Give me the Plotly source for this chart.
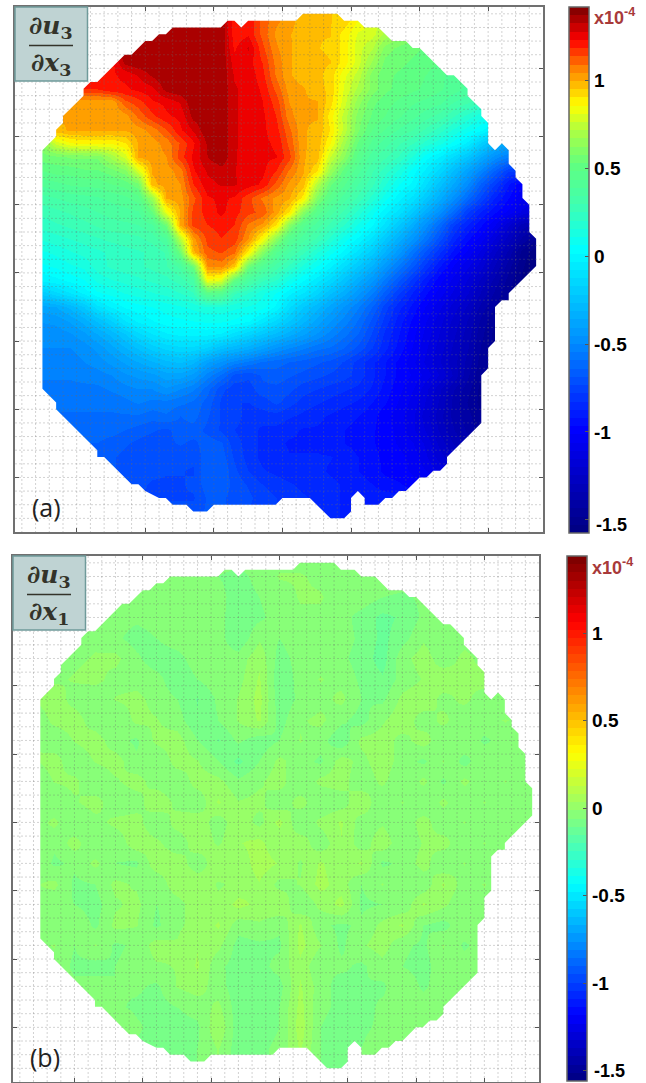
import plotly.graph_objects as go

W, H = 646, 1083

# ---- region outline in grid units (shared by both maps) ----
outline_u = [4,6,6,7,7,10,10,11,12,16,17,19,20,21,22,23,30,31,32,33,34,41,42,47,48,50,51,53,55,57,58,59,63,64,66,66,68,68,69,69,70,71,72,72,73,73,74,74,75,75,76,76,72,72,71,70,70,69,69,68,68,63,63,62,61,60,59,57,56,55,54,53,51,51,50,49,49,48,46,43,39,38,29,28,26,25,23,22,21,19,18,17,13,12,12,6,6,4,4]
outline_v = [21,19,18,17,16,13,12,11,11,7,7,5,5,4,4,3,3,2,2,3,2,2,1,1,2,2,3,3,5,5,6,6,10,10,12,13,15,16,17,20,21,20,21,23,24,25,26,28,29,33,34,38,42,43,43,44,49,50,53,54,61,66,67,68,68,69,69,71,71,72,72,73,73,72,71,72,74,75,75,72,72,73,73,74,74,73,73,72,72,71,70,70,66,66,65,59,58,56,21]

# ---- panel (a): values x100 on a 2-unit grid, (first column index, values) ----
a_first = [15,15,15,7,6,5,4,3,2,2,2,2,2,2,2,2,2,2,2,2,2,2,2,2,2,2,2,2,2,2,2,2,2,6,9,11,13]
a_rows = [
 [136,120,122,112,105,102,96,95,95,93,85,80,72,60],
 [136,120,122,112,103,100,96,95,95,88,80,78,70,64,60,55],
 [136,122,128,115,105,100,97,95,94,88,78,72,60,56,54,52],
 [120,134,136,136,136,136,136,136,136,125,125,118,107,100,97,96,95,88,78,66,56,54,52,50,48],
 [122,122,124,128,133,136,136,136,136,136,127,126,120,108,100,97,96,93,82,74,60,54,52,50,48,45,40],
 [118,118,122,122,124,126,134,136,136,136,136,128,126,122,112,102,100,96,94,80,70,60,54,51,49,47,44,41,37,35],
 [103,100,100,100,112,116,122,124,128,136,136,136,128,126,123,116,104,100,100,92,78,64,54,50,47,44,42,40,34,30,25],
 [100,100,100,100,100,102,110,117,122,124,134,136,136,128,126,124,118,106,100,100,88,74,60,52,48,44,40,36,32,25,18,12,5],
 [90,98,100,100,100,100,100,102,106,113,122,128,136,136,128,126,124,120,110,100,98,90,74,58,48,43,38,34,28,22,14,8,2,-5],
 [62,78,85,87,87,86,90,100,102,106,114,122,133,136,128,126,124,122,112,100,98,86,68,52,42,36,30,25,18,12,4,-5,-18,-30,-38],
 [55,56,58,58,58,68,78,100,102,104,116,124,132,136,128,125,124,123,115,100,97,76,62,46,36,30,24,14,3,-4,-14,-24,-36,-48,-55],
 [48,50,50,52,52,55,60,78,100,102,106,122,128,130,128,124,124,118,108,100,90,66,50,40,30,22,14,3,-5,-15,-28,-40,-52,-65,-78],
 [40,42,44,45,45,48,50,56,98,102,104,118,126,128,128,125,122,112,103,97,72,54,44,34,26,16,6,0,-12,-25,-37,-50,-65,-78,-92,-100],
 [32,34,36,37,38,40,42,46,66,100,102,112,122,124,122,115,108,103,100,88,60,46,36,28,18,8,-2,-10,-22,-35,-48,-62,-75,-88,-97,-106],
 [26,28,30,32,34,36,37,38,52,82,100,115,120,124,120,115,112,102,90,62,46,36,28,18,8,-2,-10,-22,-35,-48,-62,-78,-88,-96,-103,-112,-118],
 [22,24,26,28,30,32,33,34,38,55,100,115,118,120,118,108,103,90,62,45,36,28,20,10,2,-10,-22,-35,-48,-62,-78,-88,-96,-106,-120,-132,-135],
 [16,18,20,22,24,26,27,28,31,38,72,102,115,118,116,104,85,62,44,36,28,18,8,0,-10,-22,-34,-46,-58,-72,-86,-96,-104,-116,-128,-140,-148],
 [10,12,15,17,19,21,23,24,26,30,55,98,112,114,110,88,62,44,34,26,16,8,0,-10,-20,-32,-44,-58,-70,-82,-94,-103,-112,-124,-136,-150,-156],
 [5,7,10,12,18,21,23,24,26,29,36,55,104,106,96,56,42,32,24,14,6,-2,-12,-22,-32,-44,-56,-68,-80,-92,-102,-110,-118,-130,-142,-152,-158],
 [-2,0,3,6,12,15,17,19,21,23,27,34,84,80,52,36,26,20,10,2,-6,-14,-24,-34,-44,-56,-68,-80,-90,-100,-108,-116,-126,-136,-146,-154,-158],
 [-20,-14,-8,-2,5,8,11,13,15,17,20,24,48,45,26,20,12,6,-2,-8,-16,-26,-34,-44,-54,-66,-78,-88,-96,-104,-112,-120,-130,-140,-148,-155],
 [-38,-36,-30,-22,-10,-3,2,4,6,8,10,12,14,14,12,10,8,0,-12,-22,-30,-38,-46,-54,-64,-76,-86,-94,-102,-110,-118,-126,-136,-144,-150],
 [-45,-44,-40,-34,-26,-18,-8,-2,1,4,5,6,7,7,5,2,-6,-14,-22,-30,-38,-45,-52,-60,-70,-80,-90,-98,-106,-114,-122,-130,-140,-148],
 [-48,-48,-46,-42,-36,-30,-22,-14,-8,-4,-2,-2,-2,-4,-10,-16,-22,-28,-34,-40,-46,-52,-58,-64,-74,-84,-92,-100,-108,-116,-124,-132,-142,-150],
 [-50,-50,-50,-48,-44,-38,-32,-26,-20,-16,-14,-14,-18,-26,-30,-34,-40,-46,-50,-54,-58,-60,-64,-70,-78,-86,-94,-102,-110,-118,-126,-134,-144,-150],
 [-52,-52,-52,-50,-48,-44,-40,-36,-32,-28,-26,-30,-40,-46,-52,-56,-60,-62,-64,-66,-68,-70,-74,-80,-86,-92,-98,-105,-112,-120,-128,-136,-146,-150],
 [-54,-54,-54,-53,-52,-50,-46,-44,-42,-38,-38,-42,-52,-60,-70,-72,-68,-66,-68,-70,-72,-74,-76,-80,-86,-92,-98,-102,-108,-116,-126,-138,-148],
 [-56,-56,-56,-56,-56,-54,-52,-50,-50,-46,-50,-54,-62,-72,-76,-76,-70,-70,-72,-76,-78,-80,-82,-84,-88,-94,-100,-106,-114,-124,-134,-142,-150],
 [-58,-58,-58,-58,-58,-58,-56,-54,-56,-56,-58,-60,-66,-74,-78,-78,-76,-72,-76,-80,-82,-84,-86,-88,-92,-96,-102,-108,-116,-126,-136,-144,-150],
 [-60,-60,-60,-60,-60,-60,-60,-60,-62,-60,-64,-62,-68,-74,-76,-80,-80,-80,-82,-84,-86,-88,-90,-92,-95,-100,-104,-110,-118,-128,-136,-142,-148],
 [-60,-62,-62,-62,-62,-62,-64,-66,-68,-70,-66,-66,-70,-74,-78,-80,-84,-84,-86,-88,-88,-90,-92,-94,-96,-99,-103,-110,-116,-126,-134,-140,-146],
 [-62,-62,-62,-64,-64,-66,-68,-70,-72,-70,-68,-70,-66,-68,-76,-80,-84,-86,-88,-88,-88,-90,-92,-94,-96,-99,-102,-106,-112,-122,-130,-136,-142],
 [-62,-64,-64,-66,-66,-68,-70,-70,-72,-72,-72,-72,-66,-66,-74,-80,-84,-85,-87,-87,-87,-87,-89,-92,-95,-98,-100,-103,-110,-118,-124],
 [-66,-68,-70,-70,-72,-73,-73,-74,-64,-64,-72,-78,-82,-84,-86,-86,-86,-88,-90,-92,-94,-98,-100,-102,-106,-112,-118],
 [-72,-74,-74,-74,-72,-66,-66,-70,-74,-78,-80,-82,-84,-84,-86,-88,-90,-92,-94,-96,-100],
 [-74,-74,-74,-68,-68,-70,-72,-76,-78,-80,-82,-84,-86,-88,-90],
 [-70,-68,-68,-70,-74,-76,-78,-80,-82,-84,-86,-88,-88],
]

# ---- panel (b): values x100 on a 3-unit grid ----
b_level = 2
b_rows = [
 [-5,-5,-5,-5,-5,-5,-5,-5,-5,-5,-5,-5,-5,-5,-5,-5,-5,-5,-5,-5,-5,-5,-5,-5,-5,-5],
 [-5,-5,-5,-5,-5,-5,-5,-5,-5,-5,-8,-10,-6,-3,-3,-4,-5,-5,-5,-5,-5,-5,-5,-5,-5,-5],
 [-5,-5,-5,-5,-5,-5,-5,-5,-5,-5,-6,-11,-8,-5,-3,-3,-5,-5,-8,-9,-7,-5,-5,-5,-5,-5],
 [-5,-5,-5,-5,-5,-6,-7,-6,-5,-5,-6,-12,-9,-6,-4,-4,-6,-10,-14,-12,-7,-5,-4,-4,-5,-5],
 [-5,-5,-5,-5,-4,-7,-10,-8,-5,-5,-6,-12,-4,-8,-5,-5,-6,-9,-14,-10,-4,-7,-5,-5,-5,-5],
 [-5,-5,-5,-4,-3,-2,-7,-11,-10,-5,-6,-6,0,-10,-6,-5,-7,-10,-15,-5,-1,-6,-2,-5,-5,-5],
 [-5,-5,-4,-3,-2,-5,-5,-6,-12,-8,-5,-5,2,-12,-6,-3,-5,-9,-12,-6,-3,0,-3,-1,-6,-5],
 [-5,-3,-1,-5,-7,-3,-2,-5,-8,-13,-7,-3,3,-11,-7,-5,-2,-8,-9,-2,0,-5,-2,-6,-8,-6],
 [-5,-7,-2,-1,-6,-8,-2,-3,-6,-12,-8,-3,2,-10,-4,-2,-7,-10,-4,0,-6,-2,-7,-5,-3,-5],
 [-5,-2,-7,-3,-1,-6,-9,-2,-1,-8,-13,-7,-11,-8,-3,-6,-12,-2,-1,-5,-1,-7,-4,-9,-6,-7],
 [-5,-4,-1,-7,-3,-1,-7,-8,-1,-3,-8,-14,-8,-2,-6,-9,-1,-5,0,-6,-9,-3,-10,-4,-8,-5],
 [-5,-8,-3,-2,-8,-4,-1,-6,-7,-1,-2,-7,-4,-1,-8,-2,-1,-7,-2,-8,-2,-9,-2,-7,-3,-8],
 [-5,-3,-8,-4,-1,-7,-6,1,-5,-7,2,-3,-2,-7,-1,-8,-6,1,-8,-3,-8,-2,-8,-3,-8,-4],
 [-5,-6,-2,-8,-5,-2,-1,-8,-1,0,-6,0,-5,3,-8,-2,2,-6,-4,-7,-1,-7,-3,-8,-6,-5],
 [-5,-4,-7,-1,-8,-7,0,-2,-7,0,-4,1,3,-3,0,-7,1,-6,0,-7,-3,-1,-8,-3,-7,-5],
 [-5,-3,-9,-7,-2,-8,-9,0,0,-7,1,-2,4,1,-4,2,-2,2,-9,-7,-1,-8,-3,-7,-5,-5],
 [-5,-4,-2,-9,-8,-2,-4,-8,1,1,-4,-2,1,-5,-3,3,-1,-8,-3,-8,-7,2,-6,-3,-7,-5],
 [-5,-3,-7,-8,-10,-4,-2,-8,-6,1,-2,3,0,1,-8,-2,3,-9,-8,-7,2,-2,-8,-5,-5,-5],
 [-5,-4,-8,-4,-9,-2,-3,-9,-4,-2,2,-6,-4,-7,2,-7,-9,-7,-2,2,-8,-10,-4,-6,-5,-5],
 [-5,-5,-3,-8,-3,-9,-7,-1,-3,1,-2,-10,-9,-9,3,-3,-9,-4,-1,-7,-9,-3,-9,-5,-5,-5],
 [-5,-5,-5,-9,-10,-8,-6,-4,-3,2,-7,-10,-10,-6,0,-8,-7,-9,-5,-8,-10,-5,-5,-5,-5,-5],
 [-5,-5,-5,-7,-6,-8,-7,-9,-3,-1,-6,-11,-11,-10,2,-6,-10,-8,-9,-4,-9,-5,-5,-5,-5,-5],
 [-5,-5,-5,-5,-7,-7,-9,-10,-8,-6,-2,-11,-11,-8,3,-7,-9,-10,-7,-8,-5,-5,-5,-5,-5,-5],
 [-5,-5,-5,-5,-5,-2,-7,-10,-10,-9,1,-11,-10,-8,4,-8,-10,-9,-7,-5,-5,-5,-5,-5,-5,-5],
 [-5,-5,-5,-5,-5,-5,-9,-10,-9,-8,-3,-11,-9,-7,2,-8,-11,-8,-5,-5,-5,-5,-5,-5,-5,-5],
 [-5,-5,-5,-5,-5,-5,-9,-10,-9,-8,-3,-11,-9,-7,2,-8,-11,-8,-5,-5,-5,-5,-5,-5,-5,-5],
]

# ---- colour maps and colour bar ticks ----
a_cmap_vals = [1.415,1.227,1.07,0.858,0.716,0.517,0.29,0.034,-0.477,-0.99,-1.574]
a_cmap_cols = ["#780000","#ff0000","#ff8000","#ffff00","#b0ff40","#60ff80","#40ffb0","#00ffff","#0090ff","#0000ff","#000080"]
b_cmap_vals = [1.44,1.065,0.69,0.315,-0.06,-0.435,-0.81,-1.185,-1.56]
b_cmap_cols = ["#780000","#ff0000","#ff8000","#ffff00","#80ff80","#00ffff","#0080ff","#0000ff","#000080"]
tick_vals = [-1, -0.5, 0, 0.5, 1, -1.5]
tick_text = ["-1", "-0.5", "0", "0.5", "1", ""]
major = [9, 19, 29, 39, 49, 59, 69]
minor = list(range(1, 77, 2))


def hex_rgb(c):
    return [int(c[i:i + 2], 16) for i in (1, 3, 5)]


def stepped(vals, cols, n=64):
    hi, lo = vals[0], vals[-1]
    out = []
    for i in range(n):
        v = lo + (hi - lo) * (i + 0.5) / n
        for k in range(len(vals) - 1):
            if vals[k + 1] <= v <= vals[k]:
                f = (v - vals[k + 1]) / (vals[k] - vals[k + 1])
                a, b = hex_rgb(cols[k + 1]), hex_rgb(cols[k])
                rgb = [round(a[j] + (b[j] - a[j]) * f) for j in range(3)]
                break
        col = "rgb(%d,%d,%d)" % tuple(rgb)
        out += [[i / n, col], [(i + 1) / n, col]]
    return out


def pad_row(first, row, n=39):
    full = [row[0]] * first + list(row)
    full += [full[-1]] * (n - len(full))
    return [v / 100 for v in full[:n]]


z_a = [pad_row(f, r) for f, r in zip(a_first, a_rows)]
z_a = [z_a[0]] + z_a + [z_a[-1]]
z_b = [[(v + b_level) / 100 for v in r] for r in b_rows]

fig = go.Figure()

panels = [
    dict(ax="", box=(15, 7, 543, 532), bar=(569, 7, 526), z=z_a, step=2, low=525,
         vals=a_cmap_vals, cols=a_cmap_cols, tag="(a)", sub="3"),
    dict(ax="2", box=(13, 556, 539, 1082), bar=(567, 556, 525), z=z_b, step=3, low=1071,
         vals=b_cmap_vals, cols=b_cmap_cols, tag="(b)", sub="1"),
]

grid_x, grid_y = [], []
for m in minor:
    grid_x += [m, m, None]
    grid_y += [0, 77, None]
    grid_x += [0, 77, None]
    grid_y += [m, m, None]

# frame walked opposite to the outline, so the outline stays an open hole
ring_x = [0, 0, 77, 77, 0] + outline_u + [0]
ring_y = [0, 77, 77, 0, 0] + outline_v + [0]

annots, shapes = [], []
for p in panels:
    xa, ya = "x" + p["ax"], "y" + p["ax"]
    L, T, R, B = p["box"]
    nr, nc = len(p["z"]), len(p["z"][0])
    bx, by, bl = p["bar"]
    fig.add_trace(go.Heatmap(
        z=p["z"], x=[i * p["step"] for i in range(nc)], y=[i * p["step"] for i in range(nr)],
        xaxis=xa, yaxis=ya, zsmooth="best", zmin=p["vals"][-1], zmax=p["vals"][0],
        colorscale=stepped(p["vals"], p["cols"]), hoverinfo="skip",
        colorbar=dict(x=bx / W, xanchor="left", y=1 - by / H, yanchor="top",
                      lenmode="pixels", len=bl, thicknessmode="pixels", thickness=20,
                      xpad=0, ypad=0, tickmode="array", tickvals=tick_vals, ticktext=tick_text,
                      ticks="inside", ticklen=4, tickcolor="#555", tickwidth=1,
                      outlinecolor="#666", outlinewidth=1.5,
                      tickfont=dict(family="Liberation Sans", size=19, color="black", weight=700)),
    ))
    fig.add_trace(go.Scatter(x=ring_x, y=ring_y, xaxis=xa, yaxis=ya, mode="lines", fill="toself",
                             fillcolor="white", line=dict(width=0), hoverinfo="skip", showlegend=False))
    fig.add_trace(go.Scatter(x=grid_x, y=grid_y, xaxis=xa, yaxis=ya, mode="lines", hoverinfo="skip",
                             line=dict(color="rgba(105,105,105,0.3)", width=1, dash="2px,2px"), showlegend=False))
    axis = dict(showgrid=False, zeroline=False, showticklabels=False, showline=True, mirror="allticks",
                linecolor="#707070", linewidth=1.5, ticks="inside", ticklen=4, tickcolor="#555", tickwidth=1,
                tickmode="array", tickvals=major)
    fig.update_layout(**{
        "xaxis" + p["ax"]: dict(axis, domain=[L / W, R / W], range=[0, 77], anchor=ya),
        "yaxis" + p["ax"]: dict(axis, domain=[1 - B / H, 1 - T / H], range=[77, 0], anchor=xa),
    })

    def note(px, py, text, size, color, anchor="center", family="Liberation Sans"):
        annots.append(dict(xref="paper", yref="paper", x=px / W, y=1 - py / H, text=text, showarrow=False,
                           xanchor=anchor, yanchor="middle", font=dict(family=family, size=size, color=color)))

    shapes.append(dict(type="rect", xref="paper", yref="paper", x0=L / W, x1=(L + 72.5) / W,
                       y0=1 - T / H, y1=1 - (T + 74) / H, fillcolor="#bfd3d3",
                       line=dict(color="#6f9a9a", width=1.5), layer="above"))
    shapes.append(dict(type="line", xref="paper", yref="paper", x0=(L + 14) / W, x1=(L + 58) / W,
                       y0=1 - (T + 38.5) / H, y1=1 - (T + 38.5) / H, line=dict(color="#33332a", width=1.5), layer="above"))
    note(L + 36, T + 20, "<b><i>∂u</i><sub>3</sub></b>", 25, "#33332a", family="DejaVu Serif")
    note(L + 36, T + 57, "<b><i>∂x</i><sub>%s</sub></b>" % p["sub"], 25, "#33332a", family="DejaVu Serif")
    note(L + 15, B - 25, p["tag"], 25, "#222", anchor="left", family="Open Sans")
    note(bx + 23, T + 10, "<b>x10<sup>-4</sup></b>", 18, "#a83a3a", anchor="left")
    note(bx + 25, p["low"], "<b>-1.5</b>", 18, "black", anchor="left")

fig.update_layout(width=W, height=H, margin=dict(l=0, r=0, t=0, b=0, pad=0), paper_bgcolor="white",
                  plot_bgcolor="white", showlegend=False, annotations=annots, shapes=shapes)

fig.write_html("out.html", config=dict(displayModeBar=False),
               post_script="document.body.style.margin='0';document.body.style.overflow='hidden';")
